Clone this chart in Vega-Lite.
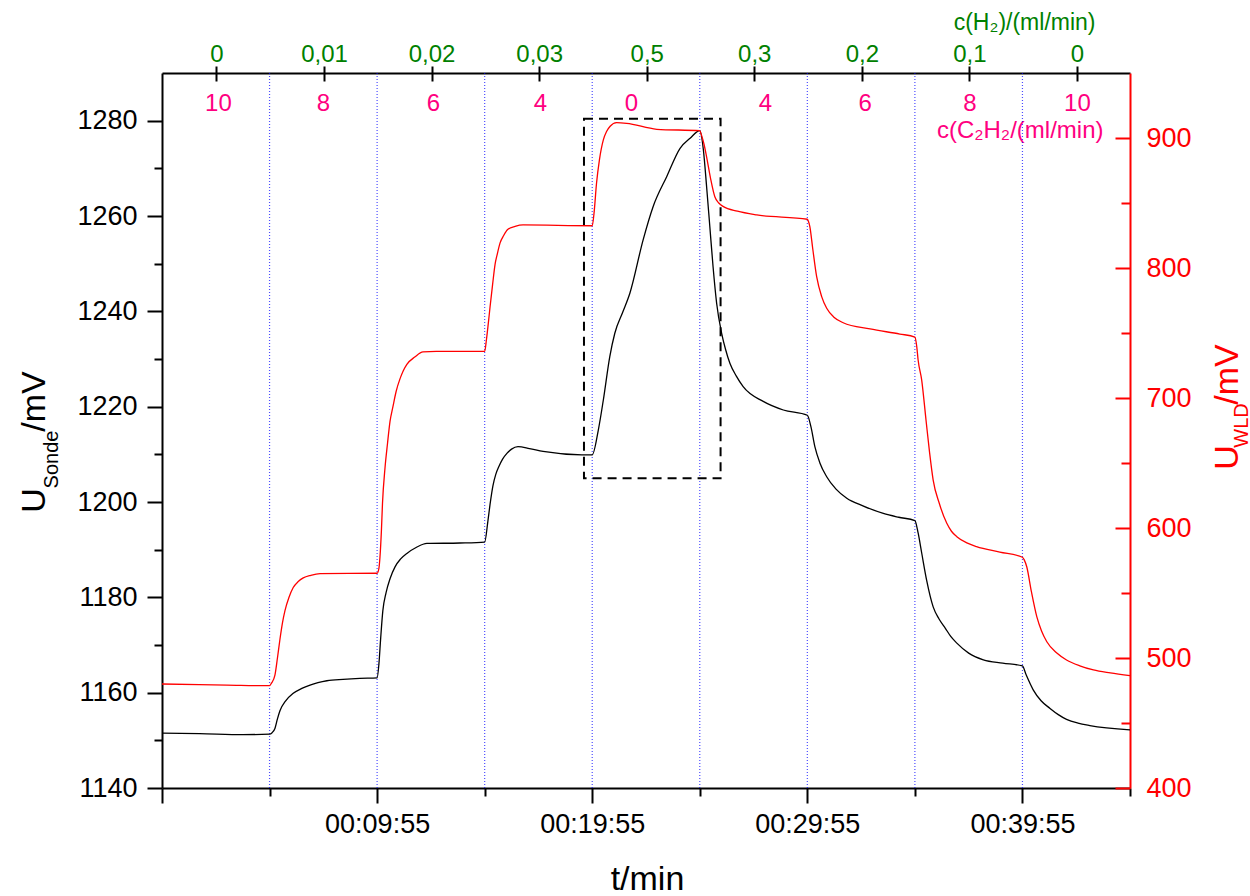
{
  "$schema": "https://vega.github.io/schema/vega-lite/v6.json",
  "width": 968,
  "height": 715,
  "autosize": {"type": "none"},
  "padding": {"left": 162, "top": 73, "right": 120, "bottom": 108},
  "config": {
    "font": "Liberation Sans",
    "view": {"stroke": null},
    "axis": {
      "grid": false,
      "labelFont": "Liberation Sans",
      "titleFont": "Liberation Sans",
      "titleFontWeight": "normal",
      "labelColor": "#000000",
      "tickColor": "#000000",
      "domainColor": "#000000",
      "domainWidth": 2,
      "tickWidth": 2,
      "labelFlush": false,
      "labelOverlap": false
    }
  },
  "datasets": {
    "sonde": [
      {"t": -5, "v": 1151.5}, {"t": 100, "v": 1151.4}, {"t": 221, "v": 1151.2}, {"t": 295, "v": 1151.3},
      {"t": 302, "v": 1151.6}, {"t": 310, "v": 1152.5}, {"t": 317, "v": 1154.5}, {"t": 324, "v": 1156.2},
      {"t": 340, "v": 1158.3}, {"t": 360, "v": 1159.8}, {"t": 385, "v": 1160.9}, {"t": 408, "v": 1161.6},
      {"t": 430, "v": 1162.1}, {"t": 455, "v": 1162.5}, {"t": 500, "v": 1162.8}, {"t": 547, "v": 1163.0},
      {"t": 595, "v": 1163.1}, {"t": 600, "v": 1166.0}, {"t": 605, "v": 1171.5}, {"t": 611, "v": 1177.2},
      {"t": 620, "v": 1181.0}, {"t": 631, "v": 1183.9}, {"t": 645, "v": 1186.4}, {"t": 660, "v": 1188.0},
      {"t": 678, "v": 1189.2}, {"t": 705, "v": 1190.5}, {"t": 734, "v": 1191.3}, {"t": 826, "v": 1191.4},
      {"t": 895, "v": 1191.6}, {"t": 904, "v": 1196.0}, {"t": 910, "v": 1199.5}, {"t": 918, "v": 1203.4},
      {"t": 926, "v": 1205.8}, {"t": 935, "v": 1207.5}, {"t": 945, "v": 1209.0}, {"t": 957, "v": 1210.2},
      {"t": 970, "v": 1211.1}, {"t": 988, "v": 1211.6}, {"t": 1020, "v": 1211.2}, {"t": 1058, "v": 1210.6},
      {"t": 1166, "v": 1209.9}, {"t": 1195, "v": 1209.9}, {"t": 1212, "v": 1215.1}, {"t": 1226, "v": 1221.4},
      {"t": 1244, "v": 1230.5}, {"t": 1258, "v": 1235.4}, {"t": 1280, "v": 1239.8}, {"t": 1300, "v": 1243.8},
      {"t": 1337, "v": 1255.0}, {"t": 1365, "v": 1262.0}, {"t": 1403, "v": 1268.3}, {"t": 1440, "v": 1274.2},
      {"t": 1468, "v": 1276.3}, {"t": 1495, "v": 1277.9}, {"t": 1505, "v": 1273.9}, {"t": 1514, "v": 1266.2},
      {"t": 1523, "v": 1257.8}, {"t": 1532, "v": 1249.4}, {"t": 1542, "v": 1241.7}, {"t": 1556, "v": 1235.4},
      {"t": 1567, "v": 1232.0}, {"t": 1579, "v": 1229.1}, {"t": 1597, "v": 1226.4}, {"t": 1616, "v": 1224.2},
      {"t": 1672, "v": 1221.1}, {"t": 1728, "v": 1219.3}, {"t": 1795, "v": 1218.2}, {"t": 1805, "v": 1215.8},
      {"t": 1816, "v": 1211.6}, {"t": 1830, "v": 1208.2}, {"t": 1849, "v": 1205.3}, {"t": 1875, "v": 1202.7},
      {"t": 1905, "v": 1200.8}, {"t": 1950, "v": 1199.2}, {"t": 2007, "v": 1197.6}, {"t": 2050, "v": 1196.8},
      {"t": 2095, "v": 1196.1}, {"t": 2104, "v": 1193.5}, {"t": 2114, "v": 1189.3}, {"t": 2128, "v": 1183.5},
      {"t": 2146, "v": 1178.0}, {"t": 2162, "v": 1175.5}, {"t": 2180, "v": 1173.5}, {"t": 2195, "v": 1171.8},
      {"t": 2212, "v": 1170.4}, {"t": 2245, "v": 1168.3}, {"t": 2286, "v": 1166.9}, {"t": 2340, "v": 1166.2},
      {"t": 2395, "v": 1165.6}, {"t": 2405, "v": 1163.8}, {"t": 2425, "v": 1160.6}, {"t": 2447, "v": 1158.3},
      {"t": 2472, "v": 1156.7}, {"t": 2495, "v": 1155.4}, {"t": 2518, "v": 1154.4}, {"t": 2550, "v": 1153.6},
      {"t": 2583, "v": 1153.1}, {"t": 2695, "v": 1152.2}
    ],
    "wld": [
      {"t": -5, "v": 480.0}, {"t": 176, "v": 479.2}, {"t": 295, "v": 478.7}, {"t": 300, "v": 480.5},
      {"t": 310, "v": 486.9}, {"t": 317, "v": 500.0}, {"t": 324, "v": 514.4}, {"t": 331, "v": 527.0},
      {"t": 338, "v": 536.4}, {"t": 349, "v": 546.5}, {"t": 361, "v": 554.2}, {"t": 375, "v": 558.8},
      {"t": 389, "v": 561.6}, {"t": 410, "v": 563.6}, {"t": 436, "v": 564.9}, {"t": 595, "v": 565.2},
      {"t": 600, "v": 569.0}, {"t": 603, "v": 577.7}, {"t": 607, "v": 598.0}, {"t": 610, "v": 618.8},
      {"t": 617, "v": 646.2}, {"t": 624, "v": 665.0}, {"t": 631, "v": 682.0}, {"t": 639, "v": 693.1},
      {"t": 648, "v": 705.0}, {"t": 659, "v": 714.9}, {"t": 668, "v": 721.0}, {"t": 678, "v": 725.9},
      {"t": 700, "v": 731.5}, {"t": 723, "v": 735.5}, {"t": 760, "v": 735.9}, {"t": 895, "v": 735.8},
      {"t": 900, "v": 745.0}, {"t": 905, "v": 757.0}, {"t": 910, "v": 770.0}, {"t": 917, "v": 787.0},
      {"t": 924, "v": 802.8}, {"t": 930, "v": 810.5}, {"t": 938, "v": 819.3}, {"t": 948, "v": 825.0},
      {"t": 960, "v": 829.8}, {"t": 980, "v": 832.0}, {"t": 1002, "v": 833.1}, {"t": 1195, "v": 832.5},
      {"t": 1200, "v": 842.0}, {"t": 1207, "v": 865.2}, {"t": 1215, "v": 883.0}, {"t": 1226, "v": 898.5},
      {"t": 1235, "v": 905.0}, {"t": 1245, "v": 909.0}, {"t": 1263, "v": 911.8}, {"t": 1291, "v": 911.3},
      {"t": 1375, "v": 906.7}, {"t": 1495, "v": 905.6}, {"t": 1500, "v": 902.0}, {"t": 1507, "v": 895.0},
      {"t": 1514, "v": 885.5}, {"t": 1525, "v": 869.0}, {"t": 1537, "v": 854.8}, {"t": 1548, "v": 850.0},
      {"t": 1561, "v": 847.2}, {"t": 1600, "v": 843.7}, {"t": 1654, "v": 840.8}, {"t": 1795, "v": 837.5},
      {"t": 1798, "v": 836.0}, {"t": 1802, "v": 831.8}, {"t": 1810, "v": 815.0}, {"t": 1821, "v": 793.3},
      {"t": 1835, "v": 778.0}, {"t": 1849, "v": 769.0}, {"t": 1870, "v": 762.0}, {"t": 1895, "v": 757.9},
      {"t": 1970, "v": 753.1}, {"t": 2053, "v": 749.2}, {"t": 2095, "v": 746.9}, {"t": 2100, "v": 740.0},
      {"t": 2104, "v": 729.2}, {"t": 2114, "v": 713.8}, {"t": 2126, "v": 683.1}, {"t": 2136, "v": 658.0},
      {"t": 2146, "v": 636.9}, {"t": 2163, "v": 619.0}, {"t": 2184, "v": 603.6}, {"t": 2197, "v": 597.5},
      {"t": 2212, "v": 593.3}, {"t": 2240, "v": 588.5}, {"t": 2267, "v": 585.6}, {"t": 2332, "v": 581.5},
      {"t": 2395, "v": 577.5}, {"t": 2400, "v": 575.5}, {"t": 2407, "v": 570.2}, {"t": 2420, "v": 551.0},
      {"t": 2435, "v": 531.8}, {"t": 2448, "v": 521.0}, {"t": 2463, "v": 512.5}, {"t": 2490, "v": 504.0},
      {"t": 2518, "v": 498.5}, {"t": 2555, "v": 494.0}, {"t": 2593, "v": 490.8}, {"t": 2640, "v": 488.5},
      {"t": 2695, "v": 486.4}
    ],
    "steps": [
      {"t": 295}, {"t": 595}, {"t": 895}, {"t": 1195}, {"t": 1495}, {"t": 1795}, {"t": 2095}, {"t": 2395}
    ],
    "box": [
      {"t0": 1172, "t1": 1553, "v0": 1205, "v1": 1280.4}
    ]
  },
  "layer": [
    {
      "data": {"name": "steps"},
      "mark": {"type": "rule", "stroke": "#0000ff", "strokeDash": [1, 2], "strokeWidth": 1.2, "opacity": 0.7},
      "encoding": {
        "x": {
          "field": "t", "type": "quantitative",
          "scale": {"domain": [-5, 2695], "nice": false, "zero": false},
          "axis": {
            "orient": "bottom",
            "values": [-5, 595, 1195, 1795, 2395],
            "labelExpr": "datum.value < 0 ? '' : utcFormat(datum.value * 1000, '%H:%M:%S')",
            "tickSize": 15,
            "labelPadding": 8,
            "labelFontSize": 27,
            "title": "t/min",
            "titleFontSize": 34,
            "titleX": 485,
            "titleY": 101,
            "titleAlign": "center",
            "titleBaseline": "alphabetic"
          }
        }
      }
    },
    {
      "data": {"name": "steps"},
      "mark": {"type": "rule", "opacity": 0},
      "encoding": {
        "x": {
          "field": "t", "type": "quantitative",
          "scale": {"domain": [-5, 2695], "nice": false, "zero": false},
          "axis": {"orient": "bottom", "values": [295, 895, 1495, 2095, 2695], "tickSize": 8, "labels": false, "domain": false, "title": null}
        }
      }
    },
    {
      "data": {"name": "steps"},
      "mark": {"type": "rule", "opacity": 0},
      "encoding": {
        "x": {
          "field": "t", "type": "quantitative",
          "scale": {"domain": [-5, 2695], "nice": false, "zero": false},
          "axis": {
            "orient": "top",
            "values": [147, 447, 747, 1047, 1347, 1647, 1947, 2247, 2547],
            "labelExpr": "['0','0,01','0,02','0,03','0,5','0,3','0,2','0,1','0'][indexof([147,447,747,1047,1347,1647,1947,2247,2547], datum.value)]",
            "tickSize": 7,
            "labelPadding": 5,
            "labelBaseline": "alphabetic",
            "labelFontSize": 24,
            "labelColor": "#008000",
            "title": "c(H₂)/(ml/min)",
            "titleColor": "#008000",
            "titleFontSize": 23,
            "titleAngle": 0,
            "titleAlign": "right",
            "titleBaseline": "alphabetic",
            "titleX": 933,
            "titleY": -44
          }
        }
      }
    },
    {
      "data": {"name": "steps"},
      "mark": {"type": "rule", "opacity": 0},
      "encoding": {
        "x": {
          "field": "t", "type": "quantitative",
          "scale": {"domain": [-5, 2695], "nice": false, "zero": false},
          "axis": {"orient": "top", "values": [147, 447, 747, 1047, 1347, 1647, 1947, 2247, 2547], "tickSize": -8, "labels": false, "domain": false, "title": null}
        }
      }
    },
    {
      "data": {"name": "steps"},
      "mark": {"type": "rule", "opacity": 0},
      "encoding": {
        "x": {
          "field": "t", "type": "quantitative",
          "scale": {"domain": [-5, 2695], "nice": false, "zero": false},
          "axis": {
            "orient": "top",
            "values": [151, 444, 751, 1049, 1303, 1677, 1955, 2247, 2547],
            "labelExpr": "['10','8','6','4','0','4','6','8','10'][indexof([151,444,751,1049,1303,1677,1955,2247,2547], datum.value)]",
            "ticks": false,
            "tickSize": 0,
            "domain": false,
            "labelPadding": -37,
            "labelBaseline": "alphabetic",
            "labelFontSize": 24,
            "labelColor": "#ff0080",
            "title": "c(C₂H₂/(ml/min)",
            "titleColor": "#ff0080",
            "titleFontSize": 24,
            "titleAngle": 0,
            "titleAlign": "right",
            "titleBaseline": "alphabetic",
            "titleX": 941,
            "titleY": 64
          }
        }
      }
    },
    {
      "data": {"name": "box"},
      "mark": {"type": "rect", "fill": null, "fillOpacity": 0, "stroke": "#000000", "strokeWidth": 2, "strokeDash": [9, 6]},
      "encoding": {
        "x": {"field": "t0", "type": "quantitative", "scale": {"domain": [-5, 2695], "nice": false, "zero": false}, "axis": null},
        "x2": {"field": "t1"},
        "y": {"field": "v0", "type": "quantitative", "scale": {"domain": [1140, 1290], "nice": false, "zero": false}, "axis": null},
        "y2": {"field": "v1"}
      }
    },
    {
      "data": {"name": "sonde"},
      "mark": {"type": "line", "color": "#000000", "strokeWidth": 1.3, "interpolate": "monotone"},
      "encoding": {
        "x": {"field": "t", "type": "quantitative", "scale": {"domain": [-5, 2695], "nice": false, "zero": false}, "axis": null},
        "y": {
          "field": "v", "type": "quantitative",
          "scale": {"domain": [1140, 1290], "nice": false, "zero": false},
          "axis": {
            "orient": "left",
            "values": [1140, 1160, 1180, 1200, 1220, 1240, 1260, 1280],
            "format": "d",
            "tickSize": 15,
            "labelPadding": 10,
            "labelFontSize": 27,
            "title": "U",
            "titleFontSize": 34,
            "titleAngle": 270,
            "titleAlign": "center",
            "titleBaseline": "alphabetic",
            "titleX": -118,
            "titleY": 427
          }
        }
      }
    },
    {
      "data": {"name": "sonde"},
      "mark": {"type": "line", "opacity": 0},
      "encoding": {
        "x": {"field": "t", "type": "quantitative", "scale": {"domain": [-5, 2695], "nice": false, "zero": false}, "axis": null},
        "y": {
          "field": "v", "type": "quantitative",
          "scale": {"domain": [1140, 1290], "nice": false, "zero": false},
          "axis": {
            "orient": "left",
            "values": [1150, 1170, 1190, 1210, 1230, 1250, 1270],
            "tickSize": 8,
            "labels": false,
            "domain": false,
            "title": "Sonde",
            "titleFontSize": 20,
            "titleAngle": 270,
            "titleAlign": "center",
            "titleBaseline": "alphabetic",
            "titleX": -105,
            "titleY": 386
          }
        }
      }
    },
    {
      "data": {"name": "sonde"},
      "mark": {"type": "line", "opacity": 0},
      "encoding": {
        "x": {"field": "t", "type": "quantitative", "scale": {"domain": [-5, 2695], "nice": false, "zero": false}, "axis": null},
        "y": {
          "field": "v", "type": "quantitative",
          "scale": {"domain": [1140, 1290], "nice": false, "zero": false},
          "axis": {
            "orient": "left",
            "ticks": false,
            "labels": false,
            "domain": false,
            "title": "/mV",
            "titleFontSize": 34,
            "titleAngle": 270,
            "titleAlign": "center",
            "titleBaseline": "alphabetic",
            "titleX": -118,
            "titleY": 328
          }
        }
      }
    },
    {
      "data": {"name": "wld"},
      "mark": {"type": "line", "color": "#ff0000", "strokeWidth": 1.3, "interpolate": "monotone"},
      "encoding": {
        "x": {"field": "t", "type": "quantitative", "scale": {"domain": [-5, 2695], "nice": false, "zero": false}, "axis": null},
        "y": {
          "field": "v", "type": "quantitative",
          "scale": {"domain": [400, 950], "nice": false, "zero": false},
          "axis": {
            "orient": "right",
            "values": [400, 500, 600, 700, 800, 900],
            "tickSize": -15,
            "labelPadding": 31,
            "labelFontSize": 27,
            "labelColor": "#ff0000",
            "tickColor": "#ff0000",
            "domainColor": "#ff0000",
            "title": "U",
            "titleColor": "#ff0000",
            "titleFontSize": 34,
            "titleAngle": 270,
            "titleAlign": "center",
            "titleBaseline": "alphabetic",
            "titleX": 107,
            "titleY": 384
          }
        }
      }
    },
    {
      "data": {"name": "wld"},
      "mark": {"type": "line", "opacity": 0},
      "encoding": {
        "x": {"field": "t", "type": "quantitative", "scale": {"domain": [-5, 2695], "nice": false, "zero": false}, "axis": null},
        "y": {
          "field": "v", "type": "quantitative",
          "scale": {"domain": [400, 950], "nice": false, "zero": false},
          "axis": {
            "orient": "right",
            "values": [450, 550, 650, 750, 850],
            "tickSize": -9,
            "tickColor": "#ff0000",
            "labels": false,
            "domain": false,
            "title": "WLD",
            "titleColor": "#ff0000",
            "titleFontSize": 20,
            "titleAngle": 270,
            "titleAlign": "center",
            "titleBaseline": "alphabetic",
            "titleX": 117,
            "titleY": 352
          }
        }
      }
    },
    {
      "data": {"name": "wld"},
      "mark": {"type": "line", "opacity": 0},
      "encoding": {
        "x": {"field": "t", "type": "quantitative", "scale": {"domain": [-5, 2695], "nice": false, "zero": false}, "axis": null},
        "y": {
          "field": "v", "type": "quantitative",
          "scale": {"domain": [400, 950], "nice": false, "zero": false},
          "axis": {
            "orient": "right",
            "ticks": false,
            "labels": false,
            "domain": false,
            "title": "/mV",
            "titleColor": "#ff0000",
            "titleFontSize": 34,
            "titleAngle": 270,
            "titleAlign": "center",
            "titleBaseline": "alphabetic",
            "titleX": 107,
            "titleY": 301
          }
        }
      }
    }
  ],
  "resolve": {
    "scale": {"y": "independent"},
    "axis": {"x": "independent", "y": "independent"}
  }
}
